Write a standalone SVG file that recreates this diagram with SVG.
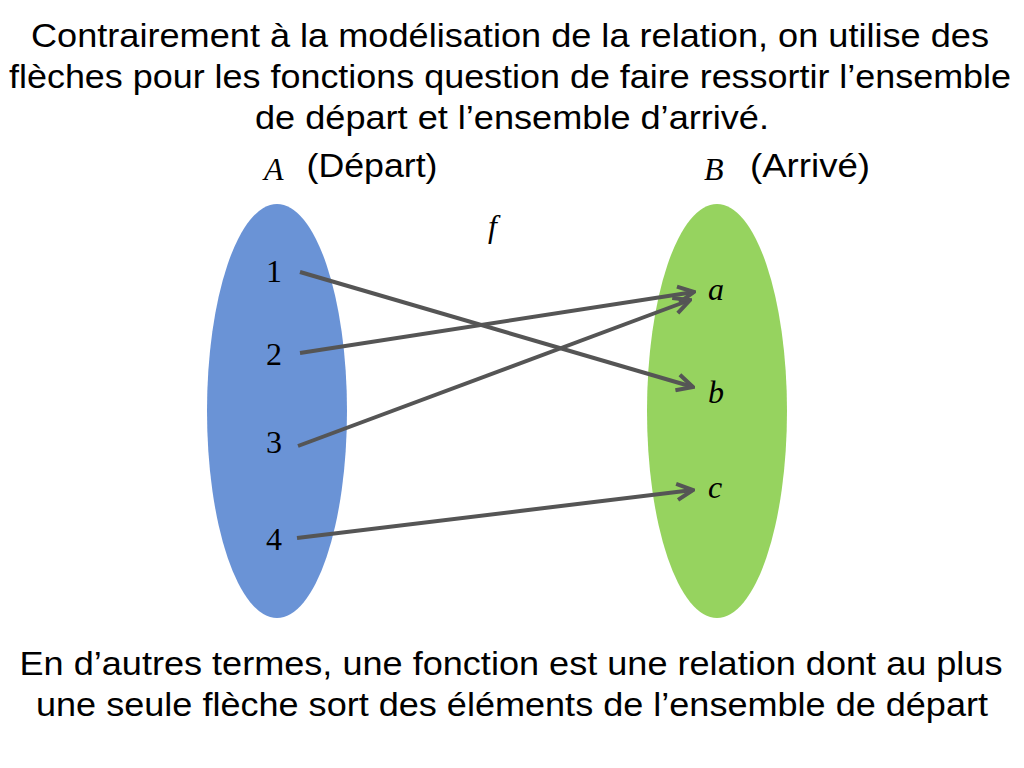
<svg xmlns="http://www.w3.org/2000/svg" width="1024" height="768" viewBox="0 0 1024 768">
<style>
.t{font-family:"Liberation Sans",Arial,sans-serif;font-size:34px;fill:#000;text-anchor:middle}
.m{font-family:"Liberation Serif","Times New Roman",serif;font-size:32px;fill:#000}
.i{font-style:italic}
.c{stroke:#555;stroke-width:4;fill:none;marker-end:url(#ah)}
</style>
<defs><marker id="ah" viewBox="0 0 10 10" refX="9" refY="5" markerWidth="5" markerHeight="5" orient="auto" markerUnits="strokeWidth"><path d="M1,1 L9,5 L1,9" fill="none" stroke="#555" stroke-width="2"/></marker></defs>
<rect width="1024" height="768" fill="#fff"/>
<text class="t" x="510" y="47" textLength="958" lengthAdjust="spacingAndGlyphs">Contrairement à la modélisation de la relation, on utilise des</text>
<text class="t" x="510" y="88" textLength="1002" lengthAdjust="spacingAndGlyphs">flèches pour les fonctions question de faire ressortir l’ensemble</text>
<text class="t" x="512" y="129" textLength="514" lengthAdjust="spacingAndGlyphs">de départ et l’ensemble d’arrivé.</text>
<g id="A"><ellipse cx="277" cy="411" rx="70" ry="207" fill="#6a93d6"/>
<text class="m i" x="264" y="180">A</text><text class="t" x="372" y="177" textLength="131" lengthAdjust="spacingAndGlyphs">(Départ)</text>
<text class="m" x="266" y="282">1</text><text class="m" x="266" y="365">2</text><text class="m" x="266" y="453">3</text><text class="m" x="266" y="550">4</text></g>
<g id="B"><ellipse cx="717" cy="411" rx="70" ry="207" fill="#96d35f"/>
<text class="m i" x="704" y="180">B</text><text class="t" x="810" y="177" textLength="120" lengthAdjust="spacingAndGlyphs">(Arrivé)</text>
<text class="m i" x="708" y="300">a</text><text class="m i" x="708" y="403">b</text><text class="m i" x="708" y="498">c</text></g>
<text class="m i" x="488" y="237">f</text>
<g id="connectors">
<line class="c" x1="300" y1="272" x2="693" y2="387"/>
<line class="c" x1="300" y1="353" x2="694" y2="292"/>
<line class="c" x1="298" y1="446" x2="690" y2="300"/>
<line class="c" x1="297" y1="538" x2="693" y2="490"/>
</g>
<text class="t" x="511" y="675" textLength="983" lengthAdjust="spacingAndGlyphs">En d’autres termes, une fonction est une relation dont au plus</text>
<text class="t" x="512" y="716" textLength="952" lengthAdjust="spacingAndGlyphs">une seule flèche sort des éléments de l’ensemble de départ</text>
</svg>
